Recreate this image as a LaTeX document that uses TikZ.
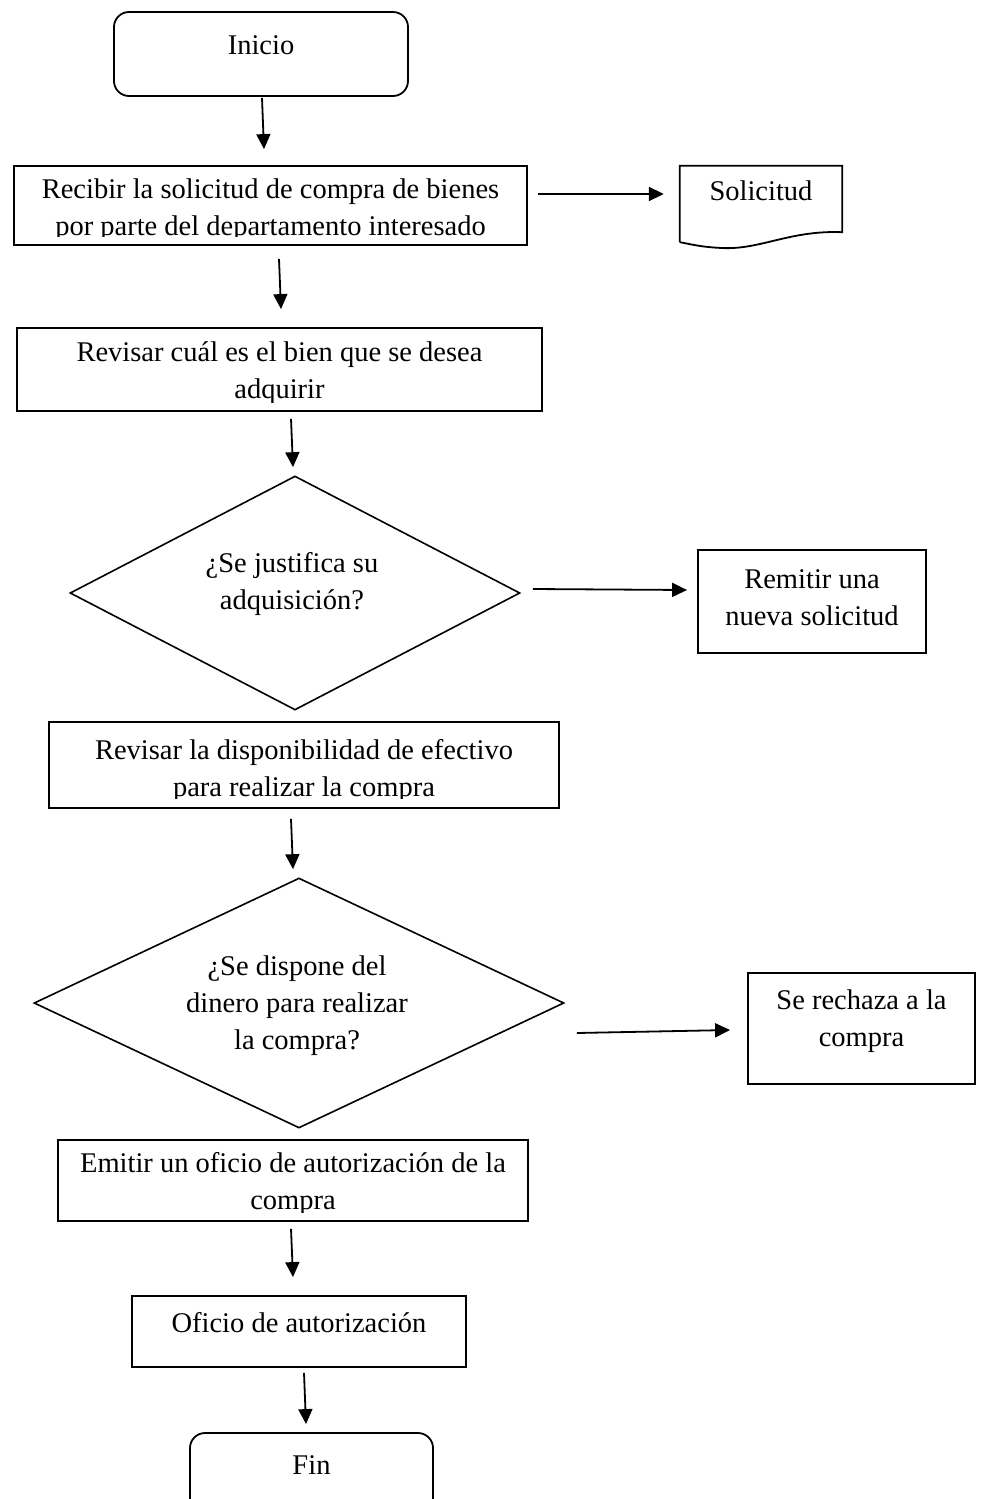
\documentclass[tikz,border=0pt]{standalone}
\usepackage{fontspec}
\setmainfont{Liberation Serif}
\usetikzlibrary{arrows.meta,shapes.geometric}
\begin{document}
\begin{tikzpicture}[x=1pt,y=1pt,
  box/.style={draw,line width=1.8pt,rectangle,inner sep=0pt},
  term/.style={box,rounded corners=15pt},
  dec/.style={draw,line width=1.6pt,diamond,inner sep=0pt},
  txt/.style={inner sep=0pt,align=center,font=\fontsize{28.5}{37}\selectfont},
  arr/.style={line width=1.8pt,-{Triangle[length=15pt,width=14pt]}}]
\useasboundingbox (0,0) rectangle (981,-1499);

% start terminal
\node[term,minimum width=294,minimum height=84] (ini) at (261,-54) {};
\node[txt] (tini) at (261,-45) {Inicio};

% receive request
\node[box,minimum width=513,minimum height=79] (b1) at (270.5,-205.5) {};
\begin{scope}
  \clip (b1.north west) rectangle ([yshift=9]b1.south east);
  \node[txt] (tb1) at (270.5,-210) {Recibir la solicitud de compra de bienes\\por parte del departamento interesado};
\end{scope}

% document symbol
\node[minimum width=162,minimum height=76,inner sep=0pt] (sol) at (761,-204) {};
\draw[line width=1.8pt] (sol.south west) -- (sol.north west) -- (sol.north east) -- ([yshift=10]sol.south east)
  .. controls (790,-230) and (760,-250) .. (722,-248)
  .. controls (700,-247) and (690,-244) .. (sol.south west);
\node[txt] (tsol) at (761,-191) {Solicitud};

% review item
\node[box,minimum width=525,minimum height=83] (b2) at (279.5,-369.5) {};
\begin{scope}
  \clip (b2.north west) rectangle ([yshift=9]b2.south east);
  \node[txt] (tb2) at (279.5,-373) {Revisar cuál es el bien que se desea\\adquirir};
\end{scope}

% first decision
\node[dec,minimum width=450,minimum height=234] (d1) at (295,-593) {};
\node[txt] (td1) at (292,-584) {¿Se justifica su\\adquisición?};

\node[box,minimum width=228,minimum height=103] (rem) at (812,-601.5) {};
\node[txt] (trem) at (812,-598) {Remitir una\\nueva solicitud};

% review cash
\node[box,minimum width=510,minimum height=86] (b3) at (304,-765) {};
\begin{scope}
  \clip (b3.north west) rectangle ([yshift=10]b3.south east);
  \node[txt] (tb3) at (304,-771) {Revisar la disponibilidad de efectivo\\para realizar la compra};
\end{scope}

% second decision
\node[dec,minimum width=530,minimum height=250] (d2) at (299,-1003) {};
\node[txt] (td2) at (297,-1006) {¿Se dispone del\\dinero para realizar\\la compra?};

\node[box,minimum width=227,minimum height=111] (rec) at (861.5,-1028.5) {};
\node[txt] (trec) at (861.5,-1021) {Se rechaza a la\\compra};

% authorization
\node[box,minimum width=470,minimum height=81] (b4) at (293,-1180.5) {};
\begin{scope}
  \clip (b4.north west) rectangle ([yshift=9]b4.south east);
  \node[txt] (tb4) at (293,-1184) {Emitir un oficio de autorización de la\\compra};
\end{scope}

\node[box,minimum width=334,minimum height=71] (b5) at (299,-1331.5) {};
\node[txt] (tb5) at (299,-1323) {Oficio de autorización};

% end terminal
\node[term,minimum width=243,minimum height=87] (fin) at (311.5,-1476.5) {};
\node[txt] (tfin) at (311.5,-1465) {Fin};

% connectors
\draw[arr] ([shift={(1,-1)}]ini.south) -- ([shift={(-6.5,16)}]b1.north);
\draw[arr] ([shift={(10,11.5)}]b1.east) -- ([shift={(-16,10)}]sol.west);
\draw[arr] ([shift={(8.5,-13)}]b1.south) -- ([shift={(1.5,18)}]b2.north);
\draw[arr] ([shift={(11.5,-7)}]b2.south) -- ([shift={(-2,8)}]d1.north);
\draw[arr] ([shift={(12,4)}]d1.east) -- ([shift={(-10,11.5)}]rem.west);
\draw[arr] ([shift={(-13,-10)}]b3.south) -- ([shift={(-6,8)}]d2.north);
\draw[arr] ([shift={(12,-30)}]d2.east) -- ([shift={(-17,-1.5)}]rec.west);
\draw[arr] ([shift={(-2,-7)}]b4.south) -- ([shift={(-6,18)}]b5.north);
\draw[arr] ([shift={(5,-5)}]b5.south) -- ([shift={(-5.5,8)}]fin.north);
\end{tikzpicture}
\end{document}
